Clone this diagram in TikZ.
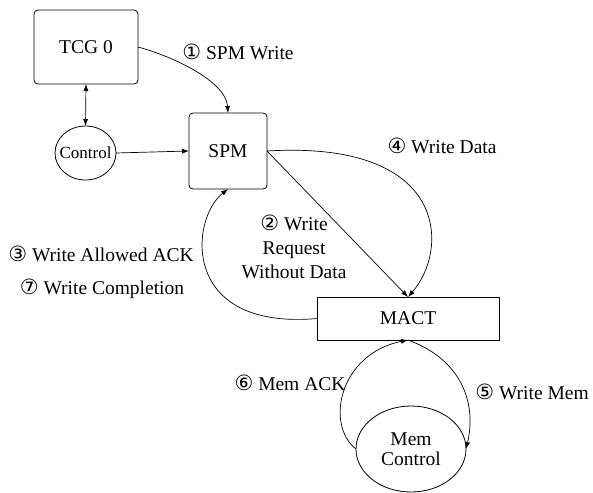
\documentclass[tikz,border=0pt]{standalone}
\usepackage{fontspec}
\setmainfont{Liberation Serif}
\newfontfamily\circfont{DejaVu Sans}
\usetikzlibrary{arrows.meta,shapes.geometric}
\newcommand{\cnum}[1]{{\circfont\fontsize{21}{21}\selectfont #1}}
\begin{document}
\begin{tikzpicture}[x=1pt,y=-1pt,
  every node/.style={font=\rmfamily\fontsize{19.5}{24}\selectfont, inner sep=0pt, outer sep=0pt},
  box/.style={draw, line width=0.8pt, align=center},
  oval/.style={draw, line width=0.8pt, ellipse, align=center},
  conn/.style={line width=0.7pt, -{Latex[length=7pt,width=5pt]}},
  lbl/.style={align=center}]
\useasboundingbox (0,0) rectangle (593,492);
\fill[white] (0,0) rectangle (593,492);

% nodes
\node[box, rounded corners=4pt, minimum width=104pt, minimum height=74pt] (tcg) at (86,47) {TCG 0};
\node[box, rounded corners=4pt, minimum width=78pt, minimum height=76pt] (spm) at (228,151) {SPM};
\node[oval, minimum width=61pt, minimum height=54pt, inner xsep=-5pt, inner ysep=-4pt, font=\rmfamily\fontsize{17}{20}\selectfont] (ctrl) at (85.5,153) {Control};
\node[box, minimum width=182pt, minimum height=43pt] (mact) at (408,318.5) {MACT};
\node[oval, minimum width=110pt, minimum height=86pt, font=\rmfamily\fontsize{19.5}{20}\selectfont] (mem) at (411,449) {Mem\\Control};

% connectors
\draw[line width=0.7pt, {Latex[length=7pt,width=5pt]}-{Latex[length=7pt,width=5pt]}] (tcg.south) -- (ctrl.north);
\draw[conn] (ctrl.east) -- (spm.west);
\draw[conn] (tcg.east) .. controls +(37,10) and +(-2,-31) .. (spm.north);
\draw[conn] (spm.east) -- (mact.north);
\draw[conn] (spm.east) .. controls +(183,-11) and +(41,-47) .. (mact.north);
\draw[conn] (mact.west) .. controls +(-137,12) and +(-38,30) .. (spm.south);
\draw[conn] (mem.west) .. controls +(-31,-24) and +(-69,14) .. (mact.south);
\draw[conn] (mact.south) .. controls +(57,21) and +(10,-42) .. (mem.east);

% labels
\node[lbl] (l1) at (238,52) {\cnum{①} SPM Write};
\node[lbl] (l4) at (442,146) {\cnum{④} Write Data};
\node[lbl] (l2) at (294,247) {\cnum{②} Write\\Request\\Without Data};
\node[lbl] (l3) at (101,254) {\cnum{③} Write Allowed ACK};
\node[lbl] (l7) at (102,289) {\cnum{⑦} Write Completion};
\node[lbl] (l6) at (290,383) {\cnum{⑥} Mem ACK};
\node[lbl] (l5) at (532,392) {\cnum{⑤} Write Mem};
\end{tikzpicture}
\end{document}
